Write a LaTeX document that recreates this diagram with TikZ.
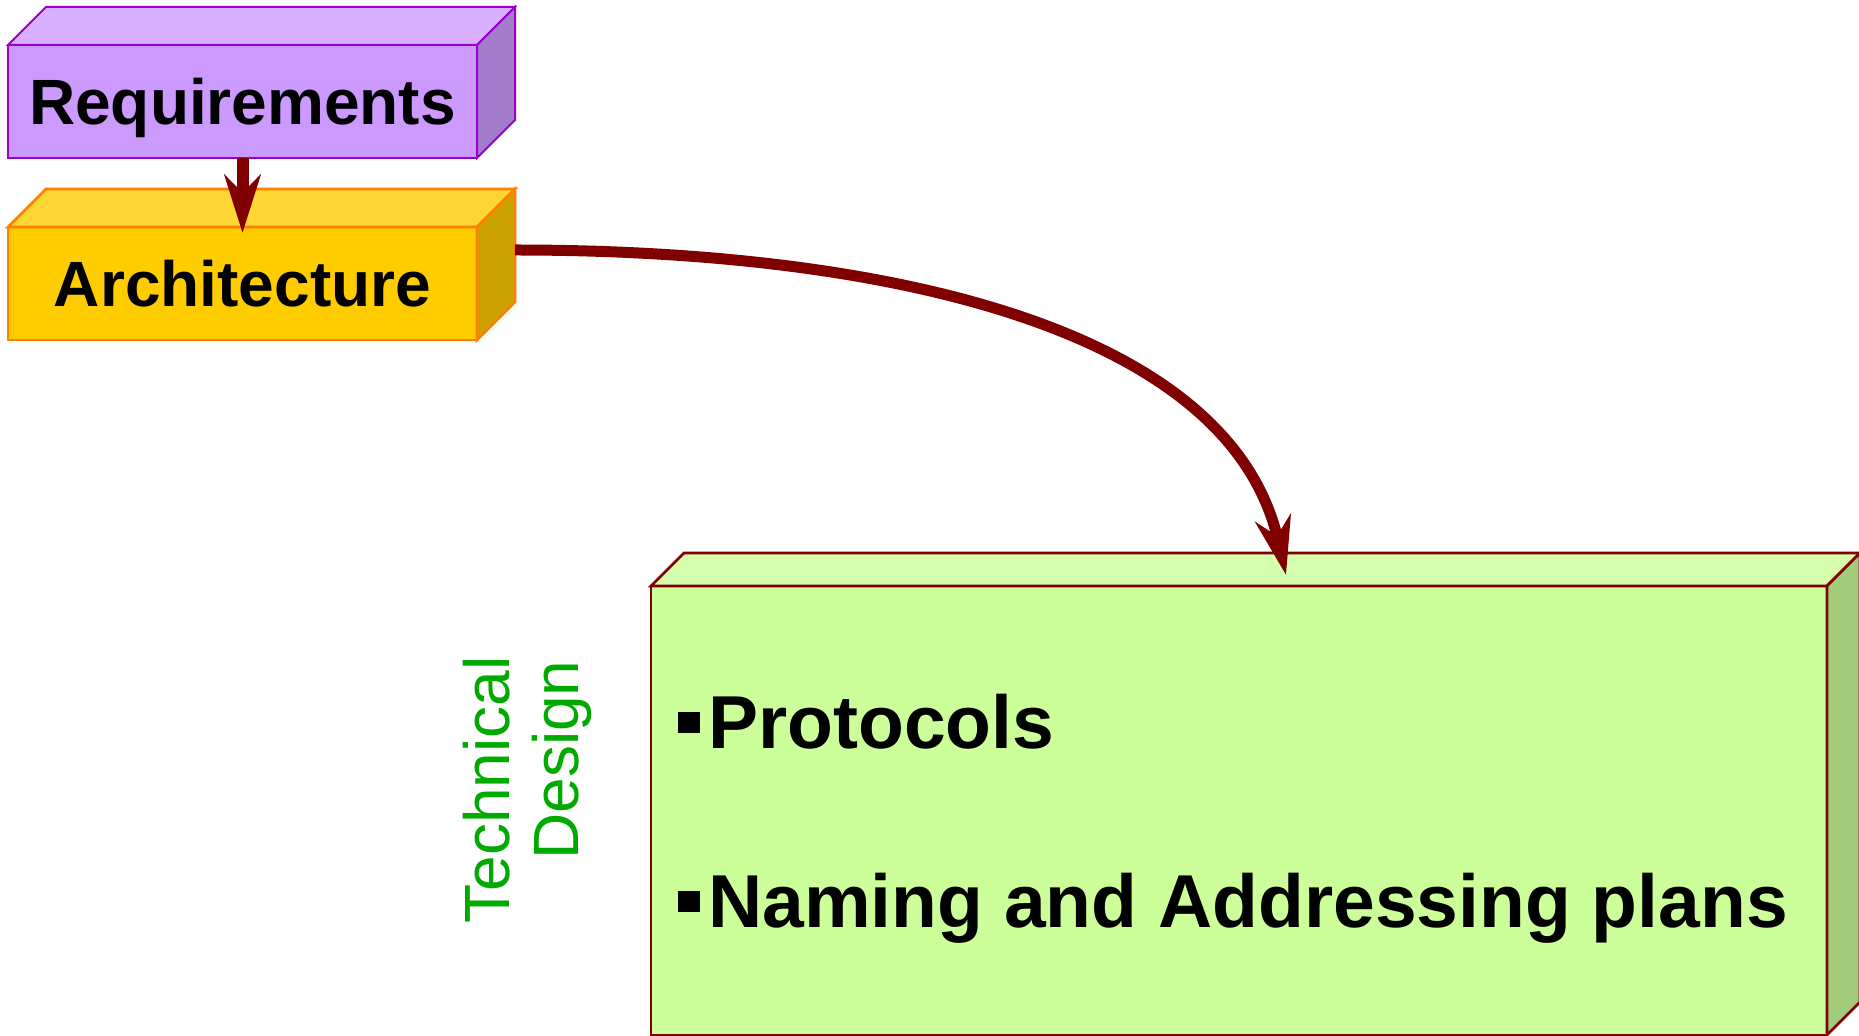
\documentclass[tikz,border=0pt]{standalone}
\usepackage{fontspec}
\setmainfont{Liberation Sans}
\usetikzlibrary{arrows.meta,calc}

\definecolor{reqfront}{HTML}{CC99FF}
\definecolor{reqtop}{HTML}{D9B0FF}
\definecolor{reqside}{HTML}{A37DCC}
\definecolor{reqline}{HTML}{9900CC}
\definecolor{archfront}{HTML}{FFCC00}
\definecolor{archtop}{HTML}{FFD633}
\definecolor{archside}{HTML}{CCA300}
\definecolor{archline}{HTML}{FF8000}
\definecolor{tdfront}{HTML}{CCFF99}
\definecolor{tdtop}{HTML}{D6FFAD}
\definecolor{tdside}{HTML}{A3CC7A}
\definecolor{darkred}{HTML}{800000}
\definecolor{labelgreen}{HTML}{00AA00}

% top and right faces of a cuboid whose front face is the node #1
\newcommand\cuboidfaces[5]{%
  \draw[#3, fill=#4, line join=miter] (#1.north west) -- ++(#2,-#2)
     -- ($(#1.north east)+(#2,-#2)$) -- (#1.north east) -- cycle;
  \draw[#3, fill=#5, line join=miter] (#1.north east) -- ++(#2,-#2)
     -- ($(#1.south east)+(#2,-#2)$) -- (#1.south east) -- cycle;
}

\tikzset{
  stagebox/.style={inner sep=0pt, outer sep=0pt, minimum width=234.5pt,
    minimum height=56.5pt, text height=22.9pt, text depth=0pt,
    font=\fontsize{32}{38}\selectfont\bfseries},
  flow/.style={draw=darkred, line width=#1,
    -{Stealth[length=29pt, width=18pt, inset=9pt]}},
  item/.style={anchor=base west, inner sep=0pt,
    font=\fontsize{37.5}{44}\selectfont\bfseries},
  sidelabel/.style={rotate=90, anchor=base west, inner sep=0pt,
    text=labelgreen, font=\fontsize{32}{38}\selectfont},
}

\newcommand\sqbullet{\rule[8pt]{11pt}{10.5pt}\hspace{4pt}}

\begin{document}
\begin{tikzpicture}[x=0.5pt, y=-0.5pt]
  \useasboundingbox (0,0) rectangle (1859,1036);

  % Requirements
  \node[stagebox, draw=reqline, line width=1pt, fill=reqfront]
    (req) at (242.5,101.5) {Requirements};
  \cuboidfaces{req}{38}{draw=reqline, line width=1pt}{reqtop}{reqside}

  % Architecture
  \node[stagebox, draw=archline, line width=1.4pt, fill=archfront]
    (arch) at (242.5,283.5) {Architecture};
  \cuboidfaces{arch}{38}{draw=archline, line width=1.4pt}{archtop}{archside}

  % Technical design block
  \node[draw=darkred, line width=1.3pt, fill=tdfront, inner sep=0pt,
    outer sep=0pt, minimum width=588pt, minimum height=224.5pt]
    (td) at (1239,810.5) {};
  \cuboidfaces{td}{33}{draw=darkred, line width=1.3pt}{tdtop}{tdside}

  \node[item] (proto) at (678,749) {\sqbullet Protocols};
  \node[item] (naming) at (678,928) {\sqbullet Naming and Addressing plans};

  % vertical caption
  \node[sidelabel] (cap1) at (509,924) {Technical};
  \node[sidelabel] (cap2) at (578,860) {Design};

  % connectors
  \coordinate (archout) at ($(arch.east)+(38,-33.5)$);
  \coordinate (tdin) at ($(td.north)+(47,-11)$);
  \draw[flow=6pt] (req.south) -- ([yshift=-3pt]arch.north);
  \draw[flow=5.5pt] (archout) .. controls +(378,0) and +(-56,-245) .. (tdin);
\end{tikzpicture}
\end{document}
